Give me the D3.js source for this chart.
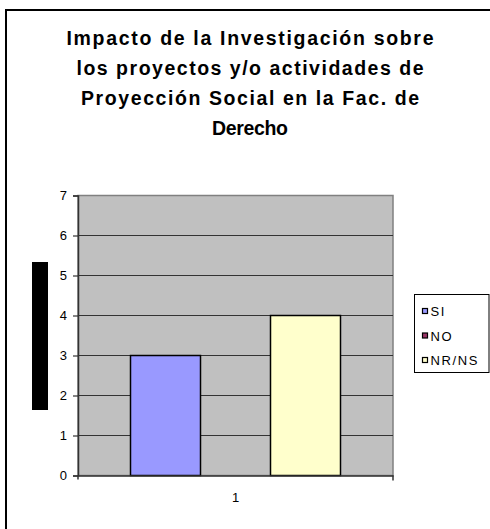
<!DOCTYPE html>
<html><head><meta charset="utf-8">
<script src="https://cdn.jsdelivr.net/npm/d3@7"></script>
<style>html,body{margin:0;padding:0;background:#fff;overflow:hidden}</style>
</head><body>
<script>
const titleLines = ["Impacto de la Investigación sobre","los proyectos y/o actividades de","Proyección Social en la Fac. de","Derecho"];
const titleWidths = [367, 347, 338, 76];
const categories = ["1"];
const seriesNames = ["SI","NO","NR/NS"];
const seriesValues = [3, 0, 4];
const seriesColors = ["#9999FF","#993366","#FFFFCC"];
const yTicks = [0,1,2,3,4,5,6,7];

const FONT = "Arial, 'Liberation Sans', sans-serif";
const W = 490, H = 529;
const svg = d3.select("body").append("svg").attr("width", W).attr("height", H);

// outer frame
svg.append("rect").attr("x",6).attr("y",10).attr("width",700).attr("height",700)
  .attr("fill","#fff").attr("stroke","#000").attr("stroke-width",2);

// title
const t = svg.append("text").style("font-family",FONT)
  .style("font-weight","bold").style("font-size","19.5px").attr("text-anchor","middle").attr("fill","#000");
titleLines.forEach((l,i)=>{
  t.append("tspan").attr("x",250).attr("y",44.5 + i*30.3)
   .attr("textLength",titleWidths[i]).attr("lengthAdjust","spacing").text(l);
});

const L = 78, R = 393, T = 195.5, B = 475.5;
const y = d3.scaleLinear().domain([0,7]).range([B,T]);
const x = d3.scaleBand().domain(categories).range([L,R]).paddingInner(0).paddingOuter(0.25);
const xs = d3.scaleBand().domain(seriesNames).range([0, x.bandwidth()]);

// plot area
svg.append("rect").attr("x",L).attr("y",T).attr("width",R-L).attr("height",B-T)
  .attr("fill","#C0C0C0").attr("stroke","#808080").attr("stroke-width",1.5);

// gridlines
svg.append("g").selectAll("line").data(yTicks.filter(d=>d>0 && d<7)).join("line")
  .attr("x1",L).attr("x2",R).attr("y1",d=>y(d)).attr("y2",d=>y(d))
  .attr("stroke","#333").attr("stroke-width",1.2);

// bars
const g = svg.append("g");
categories.forEach(c=>{
  g.selectAll(null).data(seriesNames.map((s,i)=>({s, v:seriesValues[i], col:seriesColors[i]})))
   .join("rect")
   .attr("x",d=>x(c)+xs(d.s)).attr("width",xs.bandwidth())
   .attr("y",d=>y(d.v)).attr("height",d=>y(0)-y(d.v))
   .attr("fill",d=>d.col).attr("stroke","#000").attr("stroke-width",1.5)
   .attr("display",d=>d.v>0?null:"none");
});

// y axis
const ya = svg.append("g").attr("transform",`translate(${L},0)`)
  .call(d3.axisLeft(y).tickValues(yTicks).tickSize(5).tickPadding(6).tickFormat(d3.format("d")));
ya.select(".domain").attr("stroke","#333").attr("stroke-width",1.5);
ya.selectAll(".tick line").attr("stroke","#333").attr("stroke-width",1.2);
ya.selectAll("text").style("font-family",FONT).style("font-size","13px").attr("fill","#000");

// x axis
const xa = svg.append("g").attr("transform",`translate(0,${B})`)
  .call(d3.axisBottom(x).tickSize(0).tickPadding(17));
xa.select(".domain").attr("stroke","#333").attr("stroke-width",1.5);
xa.selectAll("text").style("font-family",FONT).style("font-size","13px").attr("fill","#000");
svg.append("line").attr("x1",R).attr("x2",R).attr("y1",B).attr("y2",B+5).attr("stroke","#333").attr("stroke-width",1.5);
svg.append("line").attr("x1",L).attr("x2",L).attr("y1",B).attr("y2",B+4).attr("stroke","#333").attr("stroke-width",1.5);

// black block (axis title)
svg.append("rect").attr("x",32).attr("y",262).attr("width",16).attr("height",148).attr("fill","#000");

// legend
const lg = svg.append("g");
lg.append("rect").attr("x",414.5).attr("y",294.5).attr("width",74.5).attr("height",78)
  .attr("fill","#fff").attr("stroke","#000").attr("stroke-width",1);
seriesNames.forEach((s,i)=>{
  const cy = 311.5 + i*24.5;
  lg.append("rect").attr("x",422.5).attr("y",cy-3).attr("width",5).attr("height",5)
    .attr("fill",seriesColors[i]).attr("stroke","#000").attr("stroke-width",1.2);
  lg.append("text").attr("x",430.5).attr("y",cy+4.5).style("font-family",FONT)
    .style("font-size","13px").style("letter-spacing","1.6px").attr("fill","#000").text(s);
});
</script>
</body></html>
